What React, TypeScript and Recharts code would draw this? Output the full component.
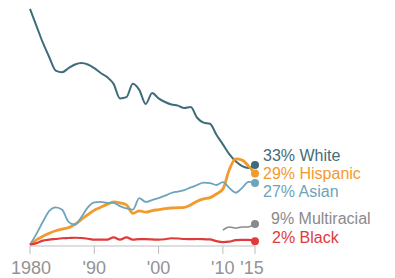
import { LineChart, Line, XAxis, YAxis } from 'recharts';

const years = [
  1980, 1981, 1982, 1983, 1984, 1985, 1986, 1987, 1988, 1989,
  1990, 1991, 1992, 1993, 1994, 1995, 1996, 1997, 1998, 1999,
  2000, 2001, 2002, 2003, 2004, 2005, 2006, 2007, 2008, 2009,
  2010, 2011, 2012, 2013, 2014, 2015,
];

const white = [
  98, 91, 84, 78, 72.5, 71.8, 73.5, 75, 75.6, 75,
  73.5, 71.5, 69.8, 67, 61, 61.5, 67, 64.5, 58.7, 63.2,
  61, 59.5, 58.5, 58, 57, 57.4, 53, 51, 50.5, 46,
  42, 38, 35, 33, 32.2, 33.5,
];

const hispanic = [
  0.5, 2.5, 4, 5.3, 6.3, 7, 7.6, 9, 11, 13,
  14.8, 16, 17.2, 18.2, 17.8, 17, 13.5, 14.5, 14, 14.6,
  15, 15.4, 15.7, 15.8, 16, 17, 18.5, 19.5, 20, 21.5,
  23.5, 31.5, 36, 35.5, 33, 30,
];

const asian = [
  0.5, 5, 10, 14.5, 16, 15, 10, 8.8, 12, 16,
  18, 18.2, 17.8, 17.8, 16.5, 15.5, 15, 19.8, 18.2, 19,
  19.8, 20.8, 21.9, 22.5, 23.1, 24.2, 25.2, 26.2, 26, 25.2,
  26.4, 24, 22, 24, 26.5, 26,
];

const multiracial = [
  null, null, null, null, null, null, null, null, null, null,
  null, null, null, null, null, null, null, null, null, null,
  null, null, null, null, null, null, null, null, null, null,
  6.6, 7.9, 7.4, 7.9, 7.9, 9.1,
];

const black = [
  0.5, 1.2, 2.2, 2.6, 2.9, 3.2, 3.3, 3.4, 3.3, 3.0,
  2.6, 2.6, 2.6, 3.6, 2.6, 3.6, 2.6, 2.8, 2.8, 2.7,
  2.6, 2.8, 3.2, 3.1, 2.9, 2.8, 2.9, 2.8, 2.7, 2.0,
  1.6, 1.8, 2.4, 2.5, 2.5, 2.0,
];

const tickYears = [1980, 1990, 2000, 2010, 2015];
const tickLabels = ['1980', "'90", "'00", "'10", "'15"];

const FONT = '"Liberation Sans", Arial, Helvetica, sans-serif';

const data = years.map((year, i) => ({
  year,
  white: white[i],
  hispanic: hispanic[i],
  asian: asian[i],
  multiracial: multiracial[i],
  black: black[i],
}));

// label offsets nudge the end labels apart so they stack like the original
const series = [
  { key: 'white', label: '33% White', color: '#3f6c7b', width: 2, dy: -10, dx: 8 },
  { key: 'hispanic', label: '29% Hispanic', color: '#f29b2c', width: 2.8, dy: 0, dx: 8 },
  { key: 'asian', label: '27% Asian', color: '#6ea4bb', width: 1.8, dy: 8, dx: 8 },
  { key: 'multiracial', label: '9% Multiracial', color: '#8a8a8a', width: 1.5, dy: -6, dx: 16 },
  { key: 'black', label: '2% Black', color: '#e03a3a', width: 2.2, dy: -4, dx: 17 },
];

const last = years.length - 1;

function XTick(props: any) {
  const { x, y, payload } = props;
  const idx = tickYears.indexOf(payload.value);
  const shift = payload.value === 2015 ? -3 : payload.value === 1980 ? 1 : 0;
  return (
    <text x={x + shift} y={y + 18} textAnchor="middle" fill="#939393" fontSize={18} fontFamily={FONT}>
      {tickLabels[idx]}
    </text>
  );
}

export default function App() {
  return (
    <div style={{ position: 'absolute', top: 0, left: 0, width: 395, height: 278, background: '#fff' }}>
      <LineChart width={395} height={278} data={data} margin={{ top: 4, right: 140, bottom: 0, left: 30 }}>
        <XAxis
          dataKey="year"
          type="number"
          domain={[1980, 2015]}
          ticks={tickYears}
          interval={0}
          height={32}
          tickSize={8}
          stroke="#bdbdbd"
          tick={<XTick />}
        />
        <YAxis hide domain={[0, 100]} />
        {series.map((s) => (
          <Line
            key={s.key}
            dataKey={s.key}
            type="monotone"
            stroke={s.color}
            strokeWidth={s.width}
            isAnimationActive={false}
            connectNulls={false}
            dot={(p: any) =>
              p.index === last ? (
                <circle key={p.key} cx={p.cx} cy={p.cy} r={4} fill={s.color} stroke="none" />
              ) : (
                <g key={p.key} />
              )
            }
            activeDot={false}
            label={(p: any) =>
              p.index === last ? (
                <text
                  key={`lbl-${s.key}`}
                  x={p.x + s.dx}
                  y={p.y + s.dy}
                  dy="0.35em"
                  fill={s.color}
                  fontSize={16}
                  fontFamily={FONT}
                >
                  {s.label}
                </text>
              ) : (
                <g key={`lbl-${s.key}-${p.index}`} />
              )
            }
          />
        ))}
      </LineChart>
    </div>
  );
}
